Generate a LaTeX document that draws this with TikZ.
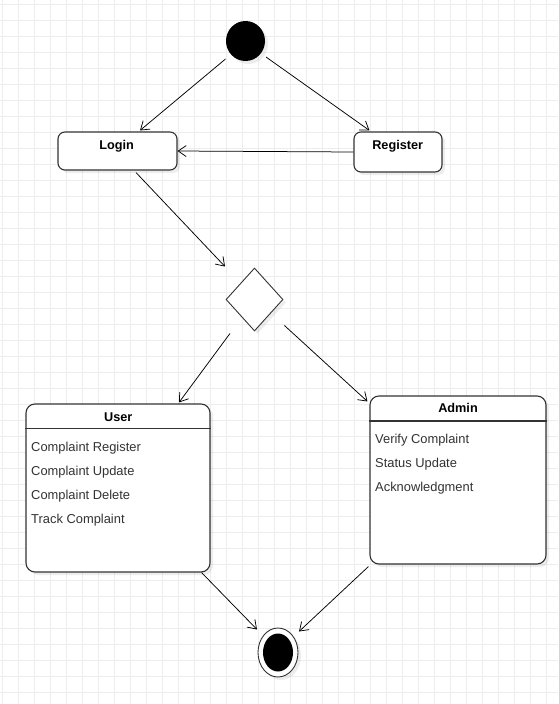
\documentclass[tikz,border=0pt]{standalone}
\usepackage{fontspec}
\setmainfont{Liberation Sans}
\usetikzlibrary{arrows.meta,calc,shapes.geometric,shadows}

\definecolor{gridline}{HTML}{EDEDED}
\definecolor{edge}{HTML}{333333}
\definecolor{itemtext}{HTML}{333333}

\tikzset{
  every picture/.style={x=1pt,y=-1pt},
  softshadow/.style={drop shadow={shadow xshift=3pt,shadow yshift=-3pt,fill=black,opacity=0.07}},
  statebox/.style={draw=edge,line width=1.1pt,fill=white,rounded corners=7pt,softshadow,inner sep=0pt},
  classbox/.style={draw=edge,line width=1.1pt,fill=white,rounded corners=9pt,softshadow,inner sep=0pt},
  title/.style={font=\fontsize{12.7}{15}\selectfont\bfseries,text=black,inner sep=0pt,anchor=base},
  item/.style={font=\fontsize{12.9}{15}\selectfont,text=itemtext,inner sep=0pt,anchor=base west},
  flow/.style={draw=black,line width=0.75pt,-{Straight Barb[length=8pt,width=11pt,line width=0.75pt]}},
}

\begin{document}
\begin{tikzpicture}
  % canvas and grid
  \useasboundingbox[fill=white] (0,0) rectangle (558,704);
  \foreach \gx in {2,18,...,558} \draw[gridline,line width=0.8pt] (\gx,0) -- (\gx,704);
  \foreach \gy in {4,20,...,704} \draw[gridline,line width=0.8pt] (0,\gy) -- (558,\gy);

  % initial and final states
  \node[ellipse,fill=black,minimum width=39pt,minimum height=40pt,inner sep=0pt,softshadow] (start) at (245.5,41) {};
  \node[ellipse,draw=edge,line width=0.9pt,fill=white,minimum width=40pt,minimum height=49pt,inner sep=0pt,softshadow] (final) at (278,652.5) {};
  \node[ellipse,fill=black,minimum width=30pt,minimum height=38pt,inner sep=0pt] (finalcore) at (final.center) {};

  % login / register
  \node[statebox,minimum width=119pt,minimum height=38pt] (login) at (117.5,151) {};
  \node[title] (logintxt) at (116.7,149) {Login};
  \node[statebox,minimum width=88pt,minimum height=40pt] (register) at (398,152) {};
  \node[title] (registertxt) at (397.7,149) {Register};

  % decision
  \node[diamond,draw=edge,line width=0.9pt,fill=white,minimum width=57pt,minimum height=63pt,inner sep=0pt,softshadow] (dia) at (254.5,299.5) {};

  % user box
  \node[classbox,minimum width=184pt,minimum height=168pt] (user) at (118,488) {};
  \draw[edge,line width=1.1pt] (user.west |- 0,428.5) -- (user.east |- 0,428.5);
  \node[title] (usertxt) at (118.3,421) {User};
  \node[item] (u1) at (31,451.5) {Complaint Register};
  \node[item] (u2) at (31,475.5) {Complaint Update};
  \node[item] (u3) at (31,499.5) {Complaint Delete};
  \node[item] (u4) at (31,523.5) {Track Complaint};

  % admin box
  \node[classbox,minimum width=176pt,minimum height=168pt] (admin) at (458,480) {};
  \draw[edge,line width=1.1pt] (admin.west |- 0,421) -- (admin.east |- 0,421);
  \node[title] (admintxt) at (458,412.7) {Admin};
  \node[item] (a1) at (375,443.3) {Verify Complaint};
  \node[item] (a2) at (375,467.3) {Status Update};
  \node[item] (a3) at (375,491.3) {Acknowledgment};

  % transitions
  \draw[flow] ($(start.center)+(-20,18)$) -- ($(login.north)+(22.5,-1)$);
  \draw[flow] ($(start.center)+(20.5,16)$) -- ($(register.north west)+(16,-1)$);
  \draw[flow] (register.west) -- (login.east);
  \draw[flow] ($(login.south)+(18.5,2)$) -- ($(dia.north)+(-29.5,-1)$);
  \draw[flow] ($(dia.south)+(-24.5,2)$) -- ($(user.north)+(61,-1)$);
  \draw[flow] ($(dia.east)+(1,26)$) -- ($(admin.north west)+(-2,6)$);
  \draw[flow] ($(user.south east)+(-9,0)$) -- ($(final.center)+(-21,-23)$);
  \draw[flow] ($(admin.south west)+(-1,2)$) -- ($(final.center)+(21,-21)$);
\end{tikzpicture}
\end{document}
